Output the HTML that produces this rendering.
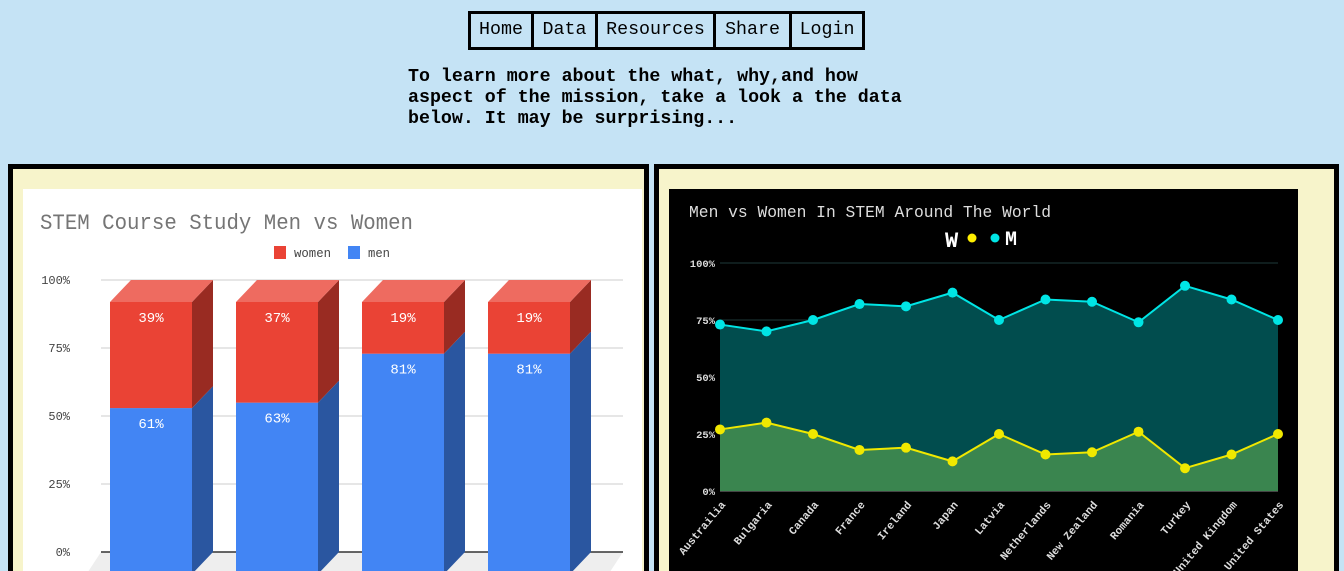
<!DOCTYPE html>
<html><head><meta charset="utf-8"><style>
html,body{margin:0;width:1344px;height:571px;overflow:hidden}
body{background:#c5e3f5;font-family:"Liberation Mono",monospace;position:relative}
.nav{position:absolute;top:11px;height:39px;box-sizing:border-box;border:3px solid #000;font-size:18.3px;line-height:33px;text-align:center;color:#000;background:#c5e3f5}
p{position:absolute;left:408px;top:67px;margin:0;font-weight:bold;font-size:18.3px;line-height:21px;white-space:pre}
.panel{position:absolute;top:164px;height:407px;box-sizing:border-box;border:5px solid #000;border-bottom:none;background:#f7f4cb}
</style></head><body>
<div>
<div class="nav" style="left:468px;width:66px">Home</div>
<div class="nav" style="left:531px;width:67px">Data</div>
<div class="nav" style="left:595px;width:121px">Resources</div>
<div class="nav" style="left:713px;width:79px">Share</div>
<div class="nav" style="left:789px;width:76px">Login</div>
</div>
<p>To learn more about the what, why,and how
aspect of the mission, take a look a the data
below. It may be surprising...</p>
<div class="panel" style="left:8px;width:641px"></div>
<div class="panel" style="left:654px;width:685px"></div>
<svg id="bar" style="position:absolute;left:23px;top:189px" width="619" height="382"></svg>
<svg id="line" style="position:absolute;left:669px;top:189px" width="629" height="382"></svg>
<script>
const barCats=["A","B","C","D"];
const menVals=[61,63,81,81];
const womenVals=[39,37,19,19];
const barTicks=[0,25,50,75,100];
const countries=["Austrailia","Bulgaria","Canada","France","Ireland","Japan","Latvia","Netherlands","New Zealand","Romania","Turkey","United Kingdom","United States"];
const menSeries=[73,70,75,82,81,87,75,84,83,74,90,84,75];
const womenSeries=[27,30,25,18,19,13,25,16,17,26,10,16,25];
const lineTicks=[0,25,50,75,100];
const NS="http://www.w3.org/2000/svg";
function mk(svg,tag,attrs,text){const e=document.createElementNS(NS,tag);for(const k in attrs)e.setAttribute(k,attrs[k]);if(text!==undefined)e.textContent=text;svg.appendChild(e);return e;}
(function(){
const s=document.getElementById('bar');
mk(s,'rect',{x:0,y:0,width:619,height:382,fill:'#fff'});
const t=mk(s,'text',{x:17,y:40,'font-size':22,fill:'#757575',textLength:373,lengthAdjust:'spacingAndGlyphs'},'STEM Course Study Men vs Women');

let r=mk(s,'rect',{x:251,y:57,width:12,height:13,fill:'#ea4335'});
mk(s,'text',{x:271,y:68,'font-size':13,fill:'#444',textLength:37,lengthAdjust:'spacingAndGlyphs'},'women');
r=mk(s,'rect',{x:325,y:57,width:12,height:13,fill:'#4285f4'});
mk(s,'text',{x:345,y:68,'font-size':13,fill:'#444',textLength:22,lengthAdjust:'spacingAndGlyphs'},'men');
const y0=363,yh=272,dx=21,dy=22;
const yB=v=>y0-v/100*yh;
mk(s,'polygon',{points:`${78-21},${y0+dy+10} ${78},${y0} ${600},${y0} ${600-21},${y0+dy+10}`,fill:'#eee'});
barTicks.forEach(v=>{
 const y=yB(v);
 const l=mk(s,'line',{x1:78,x2:600,y1:y,y2:y,stroke:v===0?'#333':'#ccc','stroke-width':v===0?1.5:1});
 
 mk(s,'text',{x:47,y:y+4,'font-size':12,fill:'#444','text-anchor':'end'},v+'%');
});
barCats.forEach((c,i)=>{
 const x=87+i*126,w=82;
 const fy=v=>y0+dy-v/100*yh;
 const segs=[[0,menVals[i],'#4285f4','#2a56a0',null],[menVals[i],menVals[i]+womenVals[i],'#ea4335','#992b22','#ee6b60']];
 segs.forEach(([a,b,f,side,top],k)=>{
  const g=mk(s,'g',{});
  
  
  mk(g,'polygon',{points:`${x+w},${fy(b)} ${x+w+dx},${fy(b)-dy} ${x+w+dx},${fy(a)-dy} ${x+w},${fy(a)}`,fill:side});
  if(top)mk(g,'polygon',{points:`${x},${fy(b)} ${x+dx},${fy(b)-dy} ${x+w+dx},${fy(b)-dy} ${x+w},${fy(b)}`,fill:top});
  mk(g,'rect',{x:x,y:fy(b),width:w,height:fy(a)-fy(b),fill:f});
  mk(g,'text',{x:x+w/2,y:fy(b)+20,'font-size':14,fill:'#fff','text-anchor':'middle'},(b-a)+'%');
 });
});
})();
(function(){
const s=document.getElementById('line');
mk(s,'rect',{x:0,y:0,width:629,height:382,fill:'#000'});
const t=mk(s,'text',{x:20,y:28,'font-size':16.5,fill:'#ddd',textLength:362,lengthAdjust:'spacingAndGlyphs'},'Men vs Women In STEM Around The World');

const lg=mk(s,'g',{});
mk(lg,'text',{x:276,y:58,'font-size':22,'font-weight':'bold',fill:'#fff'},'W');
mk(lg,'circle',{cx:303,cy:49,r:4.5,fill:'#ffef00'});
mk(lg,'circle',{cx:326,cy:49,r:4.5,fill:'#00e5e5'});
mk(lg,'text',{x:336,y:56,'font-size':20,'font-weight':'bold',fill:'#fff'},'M');
const x0=51,x1=609,yb=302,yt=74;
const X=i=>x0+i*(x1-x0)/(countries.length-1);
const Y=v=>yb-v/100*(yb-yt);
lineTicks.forEach(v=>{
 const l=mk(s,'line',{x1:x0,x2:x1,y1:Y(v),y2:Y(v),stroke:v===0?'#888':'#1e3a3a','stroke-width':1});
 
 mk(s,'text',{x:46,y:Y(v)+4,'font-size':10.5,'font-weight':'bold',fill:'#ddd','text-anchor':'end'},v+'%');
});
const area=(vals,fill)=>{let d=`M${X(0)},${Y(0)}`;vals.forEach((v,i)=>d+=` L${X(i)},${Y(v)}`);d+=` L${X(vals.length-1)},${Y(0)}Z`;return mk(s,'path',{d:d,fill:fill});};
let a=area(menSeries,'#014d4e');
a=area(womenSeries,'#3a854f');
[[menSeries,'#00e5e5','men'],[womenSeries,'#f0e800','women']].forEach(([vals,c,n])=>{
 const l=mk(s,'polyline',{points:vals.map((v,i)=>X(i)+','+Y(v)).join(' '),fill:'none',stroke:c,'stroke-width':2});
 
 vals.forEach((v,i)=>{const p=mk(s,'circle',{cx:X(i),cy:Y(v),r:5,fill:c});
  });
});
countries.forEach((c,i)=>{
 const tx=mk(s,'text',{x:X(i)+6,y:yb+14,'font-size':11,'font-weight':'bold',fill:'#ddd','text-anchor':'end',transform:`rotate(-50 ${X(i)+6} ${yb+14})`},c);
 
});
})();
</script>
</body></html>
